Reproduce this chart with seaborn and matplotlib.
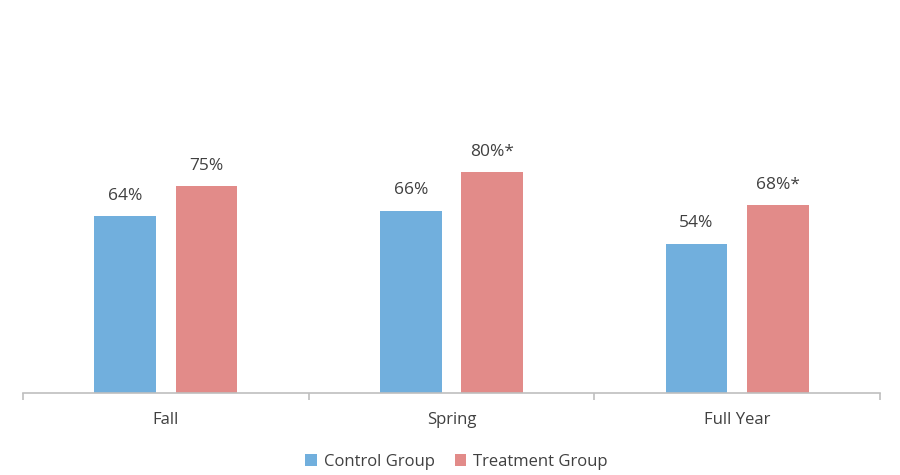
import matplotlib
matplotlib.use('Agg')

import pandas as pd
import seaborn as sns
from matplotlib import pyplot as plt

# data
terms = ['Fall', 'Spring', 'Full Year']
control = [0.64, 0.66, 0.54]
treatment = [0.75, 0.80, 0.68]
control_labels = ['64%', '66%', '54%']
treatment_labels = ['75%', '80%*', '68%*']
groups = ['Control Group', 'Treatment Group']

df = pd.DataFrame({
    'term': terms * 2,
    'value': control + treatment,
    'group': [groups[0]] * 3 + [groups[1]] * 3,
})

sns.set_theme(style='white')
plt.rcParams['font.family'] = ['Open Sans', 'DejaVu Sans']

txt = '#404040'
fig = plt.figure(figsize=(9, 4.75), dpi=100)
ax = fig.add_axes([23 / 900, 1 - 393 / 475, 857 / 900, 276 / 475])

sns.barplot(data=df, x='term', y='value', hue='group',
            palette=['#71AFDD', '#E28B89'], saturation=1, width=0.57, gap=0.24,
            linewidth=0, ax=ax, legend=True)

# value labels
for cont, lbls in zip(ax.containers, [control_labels, treatment_labels]):
    ax.bar_label(cont, labels=lbls, padding=9, fontsize=12.5, color=txt)

ax.set_ylim(0, 1)
ax.set_xlim(-0.5, 2.5)
ax.set_xlabel('')
ax.set_ylabel('')
ax.set_yticks([])
for s in ['top', 'right', 'left']:
    ax.spines[s].set_visible(False)
ax.spines['bottom'].set_color('#BFBFBF')
ax.spines['bottom'].set_linewidth(1.2)

ax.set_xticks([-0.5, 0.5, 1.5, 2.5], minor=True)
ax.tick_params(axis='x', which='minor', length=5, width=1.2, color='#BFBFBF', bottom=True)
ax.tick_params(axis='x', which='major', length=0, pad=14, labelsize=12, labelcolor=txt)

leg = ax.legend(loc='upper center', bbox_to_anchor=(0.5 + 5 / 857, -0.165), ncol=2,
                frameon=False, fontsize=12, handlelength=0.7, handleheight=0.7,
                handletextpad=0.4, columnspacing=1.2)
for t in leg.get_texts():
    t.set_color(txt)

fig.savefig('out.png', dpi=100)
